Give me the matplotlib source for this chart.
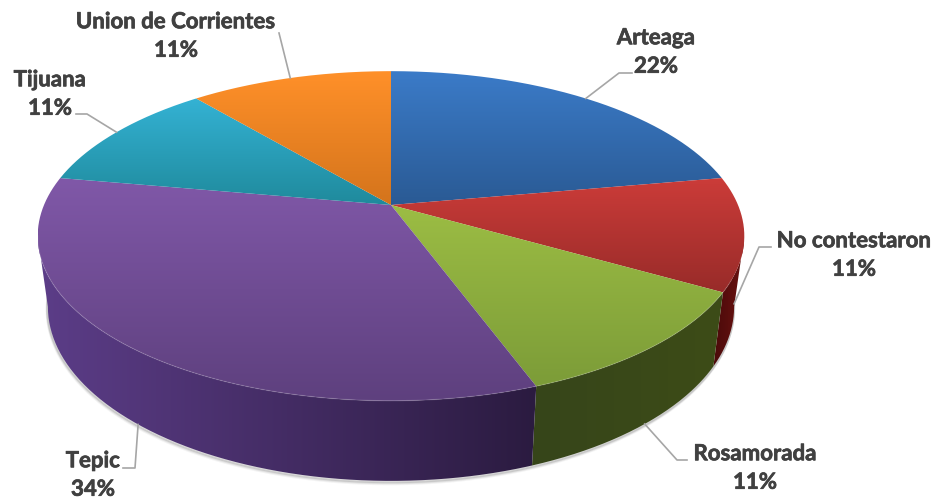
#!/usr/bin/env python3
#
# 3D style pie chart, drawn as a perspective view of a flat cylinder

import numpy as np
import matplotlib
matplotlib.use("Agg")
import matplotlib.pyplot as plt
import matplotlib.patheffects as pe
from matplotlib.colors import LinearSegmentedColormap
from matplotlib.patches import PathPatch
from matplotlib.path import Path

# data
categories = ["Arteaga", "No contestaron", "Rosamorada", "Tepic", "Tijuana", "Union de Corrientes"]
shares = [22.2, 11.1, 11.1, 33.4, 11.1, 11.1]       # size of the slices as measured
pct_labels = ["22%", "11%", "11%", "34%", "11%", "11%"]   # printed on the chart

# top face colours (upper, lower), side colours (left, right)
top_colors = [("#3b7bc8", "#2a5a94"), ("#cc3c39", "#982b29"), ("#9cbd44", "#7c9c38"),
              ("#8058a8", "#5e407e"), ("#34b2d4", "#1f8a9c"), ("#ff9029", "#d4741c")]
side_colors = [("#1f4270", "#1f4270"), ("#4a0a0a", "#6a1210"), ("#36451a", "#3d4c17"),
               ("#5c3d88", "#2b1b40"), ("#186a78", "#186a78"), ("#a0560f", "#a0560f")]

# where the label sits and the elbow of its leader line (pixels)
label_pos = [(656, 52), (854, 255), (755, 468), (93, 475), (50, 94), (176, 36)]
elbows = [[(619, 73), (632, 73)], [(759, 247), (771, 247)], [(677, 460), (687, 460)],
          [(135, 468), (123, 468)], [(87, 114), (76, 114)], [(279, 33)]]

# perspective of the two faces
CX = 391
TOP = dict(a=347, b=159, y0=205)
BOT = dict(a=337, b=168, y0=274)
K = 0.188


def project(theta, face):
    # theta in degrees, clockwise from 12 o'clock
    t = np.radians(theta)
    u, v = np.sin(t), np.cos(t)
    w = 1 + K * v
    return CX + face["a"] * u / w, face["y0"] - face["b"] * v / w


def gradient_fill(ax, verts, c1, c2, horizontal=False, zorder=2):
    verts = np.array(verts)
    x0, x1 = verts[:, 0].min(), verts[:, 0].max()
    y0, y1 = verts[:, 1].min(), verts[:, 1].max()
    cmap = LinearSegmentedColormap.from_list("g", [c1, c2])
    ramp = np.linspace(0, 1, 256)
    img = ramp.reshape(1, -1) if horizontal else ramp.reshape(-1, 1)
    im = ax.imshow(img, cmap=cmap, extent=(x0, x1, y1, y0), aspect="auto",
                   origin="upper", zorder=zorder, interpolation="bilinear")
    patch = PathPatch(Path(np.vstack([verts, verts[:1]])), transform=ax.transData,
                      fc="none", ec="none")
    ax.add_patch(patch)
    im.set_clip_path(patch)


fig = plt.figure(figsize=(9.4, 5.04), dpi=100)
ax = fig.add_axes([0, 0, 1, 1])
ax.axis("off")

edges = np.cumsum([0] + shares) * 3.6
theta_l = np.degrees(np.arccos(-K))
theta_r = 360 - theta_l

# soft shadow under the body
ts = np.linspace(theta_l - 10, theta_r + 10, 300)
sx, sy = project(ts, BOT)
for off, alpha in ((3.0, 0.07), (2.0, 0.12), (1.0, 0.2)):
    ax.plot(sx - off * 0.3, sy + off, color="#606060", alpha=alpha, lw=2, zorder=1)

# sides of the slices that face the viewer
for i in range(len(shares)):
    t0 = max(edges[i], theta_l)
    t1 = min(edges[i + 1], theta_r)
    if t1 <= t0:
        continue
    t = np.linspace(t0, t1, 120)
    xt, yt = project(t, TOP)
    xb, yb = project(t, BOT)
    verts = np.column_stack([np.r_[xt, xb[::-1]], np.r_[yt, yb[::-1]]])
    gradient_fill(ax, verts, side_colors[i][0], side_colors[i][1], horizontal=True, zorder=2)

# top face
for i in range(len(shares)):
    t = np.linspace(edges[i], edges[i + 1], 160)
    x, y = project(t, TOP)
    verts = np.column_stack([np.r_[CX, x], np.r_[TOP["y0"], y]])
    gradient_fill(ax, verts, top_colors[i][0], top_colors[i][1], zorder=3)

# light rim on the front edge
t = np.linspace(theta_l + 15, theta_r, 300)
x, y = project(t, TOP)
ax.plot(x, y, color="#ffffff", alpha=0.1, lw=1, zorder=4)

# leader lines start at the middle of each slice
for i, name in enumerate(categories):
    mid = (edges[i] + edges[i + 1]) / 2
    face = BOT if theta_l - 5 < mid < theta_r else TOP
    px, py = project(mid, face)
    pts = [(float(px), float(py))] + elbows[i]
    ax.plot([p[0] for p in pts], [p[1] for p in pts], color="#a6a6a6", lw=1.2, zorder=5)
    ax.text(label_pos[i][0], label_pos[i][1], "{}\n{}".format(name, pct_labels[i]),
            ha="center", va="center", family="Lato", fontweight="bold",
            fontsize=16, color="#404040", linespacing=1.44, zorder=6,
            path_effects=[pe.withStroke(linewidth=0.5, foreground="#404040")])

ax.set_xlim(0, 940)
ax.set_ylim(504, 0)
fig.savefig("out.png", dpi=100)
